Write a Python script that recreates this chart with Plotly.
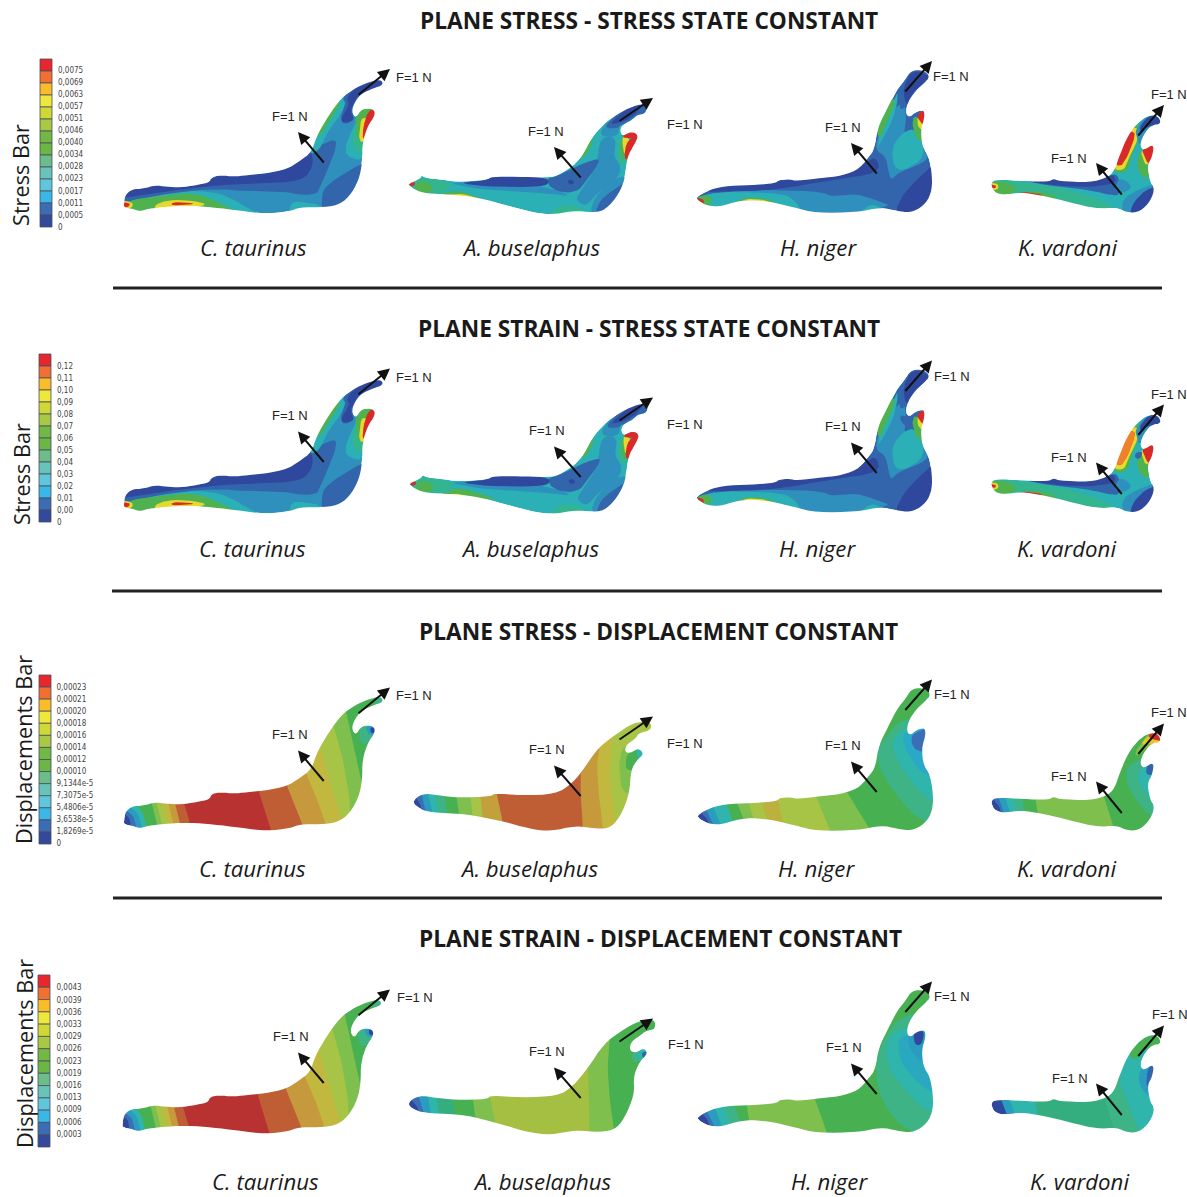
import plotly.graph_objects as go

# ---------- text content ----------
TITLES = [("PLANE STRESS - STRESS STATE CONSTANT", 649, 20),
          ("PLANE STRAIN - STRESS STATE CONSTANT", 649, 328),
          ("PLANE STRESS - DISPLACEMENT CONSTANT", 658, 631),
          ("PLANE STRAIN - DISPLACEMENT CONSTANT", 660, 938)]
SPECIES = ["C. taurinus", "A. buselaphus", "H. niger", "K. vardoni"]
SPECIES_X = [[253, 531, 818, 1067], [252, 530, 817, 1066], [252, 529, 816, 1066], [265, 542, 829, 1079]]
SPECIES_Y = [247, 548, 868, 1181]
SEPARATORS = [(113, 1162, 288), (112, 1162, 591), (113, 1162, 898)]
BAR_TITLES = [("Stress Bar", 20, 175), ("Stress Bar", 21, 474),
              ("Displacements Bar", 23, 750), ("Displacements Bar", 24, 1054)]
FORCE_LABELS = [
    [(414, 77), (290, 116), (546, 131), (685, 124), (843, 127), (951, 76), (1069, 158), (1169, 94)],
    [(414, 377), (290, 415), (547, 430), (685, 424), (843, 426), (952, 376), (1069, 457), (1169, 394)],
    [(414, 695), (290, 734), (547, 749), (685, 743), (843, 745), (952, 694), (1069, 776), (1169, 712)],
    [(415, 997), (291, 1036), (547, 1051), (686, 1044), (844, 1047), (952, 996), (1070, 1078), (1170, 1014)],
]
# arrows: tail x, tail y, head x, head y (first row)
ARROWS = [(325, 164, 298, 132), (357, 96, 390, 69), (582, 179, 554, 147), (618, 122, 653, 98),
          (878, 175, 851, 143), (904, 93, 932, 61), (1123, 196, 1096, 163), (1137, 137, 1164, 105)]
ARROW_DY = [0, 299.5, 618.5, 920.5]

# ---------- colour bars ----------
BAR_COLORS = ['#e8262d', '#f26f32', '#fbbc2a', '#efe83c', '#cfd834', '#a9c843', '#72b844',
              '#6ab746', '#6dbd8a', '#68c3b8', '#5fc6dc', '#3ab7e6', '#3a6db4', '#32499c']
BAR_BOXES = [(40, 52, 59, 227), (39, 51, 354, 522), (39, 51, 675, 844), (38, 50, 975, 1147)]
BAR_TICKS_1 = ["0,0075", "0,0069", "0,0063", "0,0057", "0,0051", "0,0046", "0,0040", "0,0034", "0,0028", "0,0023", "0,0017", "0,0011", "0,0005", "0"]
BAR_TICKS_2 = ["0,12", "0,11", "0,10", "0,09", "0,08", "0,07", "0,06", "0,05", "0,04", "0,03", "0,02", "0,01", "0,00", "0"]
BAR_TICKS_3 = ["0,00023", "0,00021", "0,00020", "0,00018", "0,00016", "0,00014", "0,00012", "0,00010", "9,1344e-5", "7,3075e-5", "5,4806e-5", "3,6538e-5", "1,8269e-5", "0"]
BAR_TICKS_4 = ["0,0043", "0,0039", "0,0036", "0,0033", "0,0029", "0,0026", "0,0023", "0,0019", "0,0016", "0,0013", "0,0009", "0,0006", "0,0003"]
BAR_TICKS = [BAR_TICKS_1, BAR_TICKS_2, BAR_TICKS_3, BAR_TICKS_4]
TICK_X = [58, 57, 56.5, 56.5]
TICK_Y0 = [71.2, 366.5, 687.5, 988.3]
TICK_STEP = [12.03, 12.0, 12.0, 12.2]

# ---------- palette of the contour maps ----------
NAVY, BLUE, STEEL, TEAL = '#2f479c', '#3265ab', '#2f90bd', '#2bb0b5'
SEA, GREEN, LIME, YEL, RED = '#33b58f', '#4fb24f', '#9cc43f', '#e6d92e', '#d92a2a'
D_BLUE, D_STEEL, D_TEAL, D_SEA = '#3a6fb5', '#2a9cc0', '#2fb5ac', '#3db386'
D_GREEN, D_LIME, D_YG, D_YELL = '#47b050', '#7fbf4d', '#a8c446', '#c3b83f'
D_OCHRE, D_BROWN, D_RED = '#c69a3c', '#bf5e35', '#b93232'

# ---------- outlines: (origin, x-scale, y-scale, points) ----------
C_OUT = ((0, 40), 3, 3, [(372,490),(376,465),(395,448),(430,446),(465,436),(500,440),(540,443),(590,435),(628,428),(635,410),(665,406),(700,410),(740,406),(800,400),(860,388),(900,363),(935,336),(950,288),(985,228),(1025,173),(1060,148),(1100,128),(1143,118),(1150,135),(1120,145),(1085,160),(1062,190),(1055,217),(1068,234),(1085,206),(1120,206),(1126,225),(1102,260),(1087,310),(1087,365),(1077,420),(1047,472),(1010,497),(960,502),(900,502),(870,514),(800,522),(720,512),(640,502),(570,497),(510,499),(440,507),(420,514),(400,507),(372,502)])
A_OUT = ((400, 50), 3, 3, [(26,402),(60,386),(65,376),(75,384),(120,388),(170,396),(260,390),(275,380),(350,380),(440,383),(470,378),(520,348),(550,313),(575,263),(610,223),(650,193),(700,168),(739,161),(739,190),(710,195),(700,210),(675,220),(660,235),(665,259),(695,244),(716,256),(702,285),(682,320),(677,370),(667,410),(642,452),(610,482),(580,487),(520,482),(470,492),(420,492),(340,472),(270,452),(200,437),(110,432),(60,427),(26,407)])
A_OUT3 = ((400, 670), 1.992, 3, [(23,395),(45,370),(75,376),(115,383),(180,380),(188,370),(240,376),(310,373),(345,338),(370,288),(395,233),(430,193),(465,158),(499,154),(501,180),(475,190),(470,205),(450,225),(448,247),(460,249),(475,234),(486,252),(472,270),(460,300),(457,370),(442,430),(422,472),(395,477),(350,467),(300,484),(260,477),(200,452),(130,432),(60,427),(40,417)])
A_OUT4 = ((400, 970), 1.992, 3, [(13,400),(38,376),(70,383),(110,390),(175,388),(180,376),(240,383),(315,378),(345,348),(375,293),(405,223),(440,183),(475,153),(507,146),(509,178),(490,182),(480,195),(460,215),(457,242),(470,249),(485,234),(494,250),(477,275),(465,320),(467,370),(452,430),(432,477),(400,487),(350,480),(300,495),(255,487),(200,462),(130,434),(60,430),(30,422)])
H_OUT = ((690, 50), 3, 3, [(18,442),(50,423),(100,408),(180,406),(258,400),(265,390),(300,388),(320,393),(400,383),(440,380),(500,363),(535,323),(553,298),(563,233),(593,173),(618,123),(643,93),(663,61),(702,61),(720,80),(702,100),(670,130),(650,165),(648,194),(660,201),(675,187),(701,179),(704,200),(692,240),(697,290),(717,320),(727,380),(724,430),(702,467),(660,489),(620,482),(570,472),(500,487),(380,489),(310,472),(250,457),(180,449),(130,457),(90,470),(50,467),(25,452)])
K_OUT = ((690, 50), 3, 3, [(901,400),(920,388),(1000,393),(1075,396),(1090,386),(1105,393),(1200,398),(1250,383),(1273,363),(1288,318),(1313,258),(1343,218),(1375,196),(1404,196),(1414,222),(1385,225),(1360,255),(1350,285),(1360,302),(1392,281),(1387,320),(1372,345),(1380,395),(1394,415),(1382,452),(1352,484),(1315,489),(1280,472),(1220,477),(1140,457),(1060,437),(990,427),(950,434),(915,430)])

# ---------- stress contour regions ----------
C_STRESS = [
 (TEAL, [(370,480),(470,462),(600,450),(680,465),(760,515),(800,530),(400,530),(370,520)]),
 (BLUE, [(370,465),(450,445),(630,430),(900,340),(950,320),(1005,295),(1010,320),(985,385),(960,440),(950,463),(900,465),(860,455),(750,455),(640,445),(470,465),(370,490)]),
 (NAVY, [(360,470),(395,440),(470,430),(540,440),(630,420),(665,400),(800,392),(900,355),(935,330),(940,380),(905,425),(760,430),(630,437),(470,458),(378,475)]),
 (GREEN, [(378,490),(400,478),(470,470),(560,458),(620,470),(680,500),(720,515),(600,505),(440,520),(400,520)]),
 (YEL, [(470,490),(520,478),(600,485),(620,495),(570,505),(480,510),(460,510)]),
 (RED, [(515,487),(560,487),(590,492),(515,497)]),
 (YEL, [(365,480),(400,488),(395,505),(370,510)]),
 (RED, [(365,486),(392,490),(385,502),(365,503)]),
 (BLUE, [(965,470),(975,440),(1040,395),(1095,365),(1095,400),(1040,490),(1000,510),(965,510)]),
 (TEAL, [(870,498),(880,485),(920,487),(960,495),(960,510),(870,520)]),
 (TEAL, [(925,345),(945,285),(980,220),(1025,165),(1040,170),(1030,215),(985,270),(960,330)]),
 (GREEN, [(945,285),(980,225),(1012,180),(1022,190),(990,240),(960,290)]),
 (BLUE, [(1025,175),(1060,145),(1100,125),(1150,115),(1155,145),(1100,155),(1075,165),(1055,215),(1065,240),(1030,255),(1020,230),(1040,190)]),
 (NAVY, [(1038,175),(1065,145),(1100,125),(1150,115),(1155,145),(1100,155),(1075,165),(1060,190),(1050,215),(1065,240),(1030,250),(1022,235),(1050,195)]),
 (TEAL, [(1075,235),(1060,260),(1035,320),(1040,350),(1095,365),(1095,240)]),
 (SEA, [(1080,225),(1062,265),(1055,325),(1095,345),(1105,250)]),
 (GREEN, [(1065,225),(1085,205),(1125,205),(1100,228),(1075,290),(1078,330),(1070,280)]),
 (YEL, [(1085,230),(1078,270),(1078,305),(1095,305),(1110,240)]),
 (RED, [(1120,202),(1097,225),(1085,295),(1098,295),(1115,258),(1138,225)]),
]
A_STRESS = [
 (SEA, [(20,400),(60,380),(170,400),(120,435),(60,435)]),
 (GREEN, [(45,395),(80,395),(100,410),(90,430),(50,430)]),
 (RED, [(18,400),(48,395),(40,412)]),
 (GREEN, [(110,432),(170,420),(230,440),(285,460),(200,445)]),
 (YEL, [(130,436),(190,430),(240,448),(200,442)]),
 (STEEL, [(150,398),(260,395),(450,410),(520,440),(440,430),(350,425),(260,420),(170,405)]),
 (STEEL, [(600,260),(650,260),(640,320),(660,340),(660,380),(590,430),(560,470),(525,450),(545,420),(590,350)]),
 (BLUE, [(440,385),(470,380),(520,352),(590,325),(600,335),(560,390),(540,420),(500,430),(450,415)]),
 (NAVY, [(170,398),(260,392),(275,376),(440,380),(450,405),(380,412),(260,410)]),
 (NAVY, [(500,392),(515,388),(525,398),(510,406)]),
 (STEEL, [(570,490),(580,450),(630,390),(680,375),(680,410),(640,460),(610,495)]),
 (BLUE, [(585,490),(600,450),(640,420),(675,395),(670,425),(630,475),(605,495)]),
 (SEA, [(450,495),(470,470),(520,465),(560,485),(470,500)]),
 (STEEL, [(610,225),(650,195),(660,235),(650,260),(600,260)]),
 (BLUE, [(610,235),(650,190),(700,165),(745,158),(745,195),(710,195),(680,220),(660,225),(655,235)]),
 (NAVY, [(625,225),(665,188),(700,165),(730,162),(705,195),(670,215)]),
 (GREEN, [(540,330),(565,280),(580,262),(575,285),(555,320)]),
 (SEA, [(660,255),(650,300),(655,340),(680,345),(700,270)]),
 (GREEN, [(665,260),(660,310),(672,335),(690,290)]),
 (YEL, [(665,255),(672,320),(685,290),(690,265)]),
 (RED, [(672,325),(680,270),(725,250),(712,290),(685,330)]),
 (RED, [(665,260),(695,240),(725,250),(700,265),(680,265)]),
]
H_STRESS = [
 (STEEL, [(70,440),(130,420),(260,420),(400,425),(420,440),(500,430),(570,455),(600,465),(570,475),(500,495),(380,495),(250,465),(180,455),(100,455)]),
 (NAVY, [(40,425),(100,405),(258,396),(300,385),(500,358),(530,335),(560,320),(570,370),(420,390),(260,420),(100,425)]),
 (TEAL, [(10,445),(60,430),(130,425),(270,430),(310,445),(340,490),(250,465),(180,455),(130,465),(90,475),(50,475)]),
 (GREEN, [(15,445),(50,432),(70,450),(50,470)]),
 (RED, [(15,441),(42,448),(42,464)]),
 (GREEN, [(110,470),(170,440),(240,448),(280,470)]),
 (YEL, [(125,465),(170,445),(230,450),(260,468)]),
 (RED, [(150,452),(197,450),(210,462),(150,462)]),
 (TEAL, [(500,495),(540,462),(570,470),(600,490)]),
 (NAVY, [(610,495),(640,430),(700,370),(735,340),(745,400),(730,455),(695,505)]),
 (STEEL, [(555,300),(565,250),(590,200),(640,150),(650,200),(640,260),(690,240),(700,300),(720,330),(620,370),(600,395),(590,320)]),
 (TEAL, [(565,290),(570,235),(605,165),(625,120),(620,170),(600,230),(560,295)]),
 (GREEN, [(558,240),(586,168),(610,140),(615,165),(590,215),(570,270)]),
 (TEAL, [(640,245),(680,235),(710,320),(640,365),(610,350),(605,290)]),
 (GREEN, [(665,210),(680,195),(700,240),(705,285),(675,260)]),
 (YEL, [(680,200),(705,175),(702,240),(685,235)]),
 (RED, [(680,195),(710,172),(706,230),(687,212)]),
 (BLUE, [(620,125),(645,90),(665,58),(700,58),(728,80),(700,100),(670,130),(650,170),(630,180),(630,150)]),
 (NAVY, [(645,100),(670,58),(728,80),(700,100),(665,130),(650,170),(640,130)]),
]
K_STRESS = [
 (SEA, [(895,400),(920,385),(985,395),(1100,410),(1240,450),(1280,480),(1140,465),(990,435),(915,435)]),
 (GREEN, [(895,400),(930,392),(985,410),(960,438),(915,435)]),
 (YEL, [(895,398),(925,400),(925,420),(900,420)]),
 (RED, [(895,403),(918,405),(918,415),(895,415)]),
 (BLUE, [(990,392),(1075,394),(1090,383),(1200,396),(1250,380),(1285,370),(1290,425),(1280,440),(1200,420),(1100,410)]),
 (NAVY, [(1000,392),(1075,394),(1090,383),(1205,398),(1250,380),(1270,372),(1280,400),(1200,412),(1080,405)]),
 (GREEN, [(985,425),(1060,425),(1110,445),(1060,445)]),
 (RED, [(985,425),(1050,430),(1060,442),(1000,440)]),
 (STEEL, [(1270,420),(1300,430),(1330,410),(1290,380)]),
 (STEEL, [(1295,450),(1340,420),(1400,400),(1400,420),(1350,495),(1300,495)]),
 (NAVY, [(1315,495),(1340,440),(1395,405),(1405,420),(1390,460),(1350,500)]),
 (GREEN, [(1268,370),(1280,320),(1305,250),(1345,215),(1352,260),(1325,310),(1315,365)]),
 (YEL, [(1270,360),(1282,320),(1307,252),(1342,225),(1345,270),(1315,325),(1305,360)]),
 (RED, [(1275,345),(1290,300),(1315,245),(1335,245),(1332,270),(1312,320),(1295,348)]),
 (STEEL, [(1335,240),(1375,190),(1425,222),(1385,225),(1365,245),(1350,290),(1340,262)]),
 (NAVY, [(1350,225),(1385,190),(1425,215),(1400,225),(1370,230),(1350,250)]),
 (GREEN, [(1350,300),(1340,340),(1350,375),(1380,390),(1372,345),(1390,310)]),
 (YEL, [(1350,295),(1362,340),(1375,345),(1392,310)]),
 (RED, [(1355,298),(1400,275),(1395,322),(1375,345),(1362,315)]),
]
H_EXTRA_2 = [(BLUE, [(630,195),(660,205),(665,220),(645,230),(632,215)])]
K_EXTRA_2 = [('#f0812b', [(1275,345),(1290,300),(1315,245),(1335,245),(1332,270),(1312,320),(1295,348)]),
             (BLUE, [(1335,310),(1360,305),(1350,330),(1335,325)])]
A_EXTRA_2 = [(GREEN, [(130,420),(180,415),(260,440),(300,455),(200,442)])]

# ---------- displacement bands: (colour, cut line from upper end to lower end) ----------
C_BANDS = [
 (D_BLUE, [(370,488),(390,505),(392,530)]), (D_STEEL, [(375,480),(400,495),(408,530)]),
 (D_TEAL, [(385,465),(415,490),(425,530)]), (D_GREEN, [(410,465),(430,490),(440,530)]),
 (D_LIME, [(455,458),(470,520)]), (D_YG, [(470,458),(485,520)]), (D_YELL, [(490,458),(505,520)]),
 (D_OCHRE, [(505,460),(520,520)]), (D_BROWN, [(525,460),(540,520)]), (D_RED, [(552,460),(570,520)]),
 (D_BROWN, [(775,420),(815,545)]), (D_OCHRE, [(862,410),(908,525)]),
 (D_YELL, [(918,370),(945,430),(978,525)]), (D_YG, [(960,290),(990,390),(1030,530)]),
 (D_LIME, [(1000,225),(1030,330),(1050,450),(1050,500)]), (D_GREEN, [(1035,170),(1060,280),(1085,400),(1090,420)]),
]
C_BANDS_TOP = [(D_SEA, [(1125,135),(1155,135),(1155,170),(1125,170)]),
               (D_SEA, [(1075,228),(1085,295),(1130,250),(1130,222)]),
               (D_STEEL, [(1095,228),(1130,228),(1130,255),(1105,255)]),
               (NAVY, [(1110,232),(1130,232),(1130,250),(1112,250)])]
A_BANDS3 = [
 (D_BLUE, [(30,380),(40,400),(45,430)]), (D_STEEL, [(42,365),(52,430)]), (D_TEAL, [(55,365),(65,430)]),
 (D_SEA, [(70,365),(78,435)]), (D_GREEN, [(88,370),(95,435)]), (D_LIME, [(112,375),(118,435)]),
 (D_YG, [(140,375),(145,440)]), ('#c4a03c', [(160,375),(165,445)]), (D_BROWN, [(192,365),(205,460)]),
 (D_OCHRE, [(360,375),(365,475)]), (D_YELL, [(400,215),(390,300),(405,480)]), (D_YG, [(425,190),(415,300),(432,480)]),
]
A_TOP3 = [(D_LIME, [(445,225),(435,280),(442,370),(470,370),(470,225)]),
          (D_GREEN, [(452,250),(448,300),(470,300),(490,250),(470,230)]),
          (D_TEAL, [(470,235),(490,235),(488,265),(472,265)])]
A_BANDS4 = [
 (D_BLUE, [(20,385),(35,410),(40,440)]), (D_STEEL, [(35,370),(50,440)]), (D_TEAL, [(55,370),(62,440)]),
 ('#34ae7f', [(72,375),(78,440)]), (D_GREEN, [(105,380),(110,440)]), (D_LIME, [(145,385),(150,440)]),
 ('#a5bf42', [(178,370),(195,500)]), (D_LIME, [(375,330),(378,500)]), (D_GREEN, [(418,205),(412,320),(428,500)]),
]
A_TOP4 = [(D_SEA, [(460,245),(463,280),(495,265),(495,235)]), (D_TEAL, [(470,238),(495,233),(492,262),(475,270)]),
          (BLUE, [(480,245),(500,245),(486,272)])]
H_BANDS3 = [
 (D_BLUE, [(597,425),(612,445),(618,475)]), (D_STEEL, [(610,420),(628,475)]), (D_TEAL, [(625,415),(642,475)]),
 (D_GREEN, [(650,400),(668,475)]), (D_LIME, [(672,400),(690,470)]), (D_YG, [(695,400),(708,465)]),
 ('#bcb03e', [(720,395),(735,465)]), (D_YG, [(752,380),(765,475)]), (D_LIME, [(828,375),(860,495)]),
 (D_GREEN, [(888,360),(940,490)]),
]
H_TOP3 = [(D_SEA, [(1000,140),(965,205),(950,240),(955,300),(990,380),(1040,460),(1100,460),(1100,150)]),
          (D_TEAL, [(1005,170),(980,210),(985,260),(1020,340),(1060,400),(1100,400),(1100,160)]),
          ('#2aa8c8', [(1008,180),(1000,210),(1015,260),(1045,320),(1100,320),(1100,160)]),
          (D_BLUE, [(1020,190),(1018,220),(1030,245),(1060,245),(1060,170)])]
H_BANDS4 = [
 (D_BLUE, [(597,425),(612,445),(618,475)]), (D_STEEL, [(610,420),(628,475)]), (D_TEAL, [(628,415),(642,475)]),
 (D_SEA, [(645,405),(660,470)]), (D_GREEN, [(665,400),(680,465)]), (D_LIME, [(690,400),(697,465)]),
 (D_GREEN, [(825,380),(852,495)]),
]
H_TOP4 = [(D_SEA, [(1000,130),(960,210),(945,300),(960,400),(1010,490),(1100,490),(1100,120)]),
          (D_TEAL, [(990,170),(965,230),(975,300),(1000,350),(1050,430),(1100,430),(1100,170)]),
          ('#2aa8c0', [(1005,190),(990,220),(1000,290),(1055,370),(1100,370),(1100,180)]),
          (D_STEEL, [(1010,190),(1015,240),(1040,280),(1060,270),(1060,180)]),
          (NAVY, [(1022,185),(1025,225),(1040,225),(1045,180)])]
K_BANDS3 = [
 (D_BLUE, [(1180,385),(1195,410),(1198,440)]), (D_STEEL, [(1192,380),(1205,440)]), (D_TEAL, [(1205,380),(1218,440)]),
 (D_SEA, [(1220,380),(1232,440)]), (D_GREEN, [(1240,380),(1246,440)]), (D_LIME, [(1265,380),(1272,445)]),
 (D_GREEN, [(1400,370),(1425,495)]),
]
K_TOP3 = [(D_SEA, [(1450,270),(1445,340),(1475,410),(1505,450),(1550,400),(1550,260)]),
          (D_TEAL, [(1470,290),(1470,340),(1500,400),(1550,400),(1550,270)]),
          (BLUE, [(1488,280),(1485,315),(1505,315),(1510,275)]),
          (D_LIME, [(1462,250),(1478,220),(1490,190),(1530,185),(1530,225),(1490,225),(1472,260)]),
          ('#e6c52e', [(1475,225),(1490,195),(1530,190),(1530,220),(1490,222)]),
          (RED, [(1488,198),(1500,188),(1530,190),(1530,212),(1505,212)])]
K_BANDS4 = [
 (D_STEEL, [(1195,380),(1212,445)]), (D_TEAL, [(1212,380),(1228,445)]), ('#34ae7f', [(1265,390),(1272,450)]),
 (D_SEA, [(1400,370),(1425,495)]), (D_TEAL, [(1435,345),(1475,495)]),
]
K_TOP4 = [(D_GREEN, [(1450,260),(1465,225),(1490,195),(1525,195),(1525,235),(1480,235),(1470,270)]),
          (D_STEEL, [(1475,290),(1470,340),(1490,380),(1520,380),(1520,280)]),
          (BLUE, [(1490,290),(1485,350),(1500,350),(1505,285)])]

ORIGIN_R3 = (400, 670); ORIGIN_R4 = (400, 970); ORIGIN_C3 = (0, 650)
FAR_TOP, FAR_BOTTOM = -500, 2500


def round_closed(pts, n=2):
    """Round the corners of a polygon so the contours read as curves."""
    for _ in range(n):
        out = []
        for i, a in enumerate(pts):
            b = pts[(i + 1) % len(pts)]
            out += [(0.75 * a[0] + 0.25 * b[0], 0.75 * a[1] + 0.25 * b[1]),
                    (0.25 * a[0] + 0.75 * b[0], 0.25 * a[1] + 0.75 * b[1])]
        pts = out
    return pts


def round_open(pts, n=2):
    for _ in range(n):
        out = [pts[0]]
        for a, b in zip(pts, pts[1:]):
            out += [(0.75 * a[0] + 0.25 * b[0], 0.75 * a[1] + 0.25 * b[1]),
                    (0.25 * a[0] + 0.75 * b[0], 0.25 * a[1] + 0.75 * b[1])]
        out.append(pts[-1])
        pts = out
    return pts


def conv(src, pts, dx=0, dy=0):
    (ox, oy), sx, sy = src
    return [(ox + p[0] / sx + dx, oy + p[1] / sy + dy) for p in pts]


def band_polys(bands, far_right):
    out = []
    for col, cut in bands:
        c = round_open(list(cut))
        out.append((col, c + [(c[-1][0], FAR_BOTTOM), (far_right, FAR_BOTTOM), (far_right, FAR_TOP), (c[0][0], FAR_TOP)], False))
    return out


S1 = ((0, 40), 3, 3); S5 = ((400, 50), 3, 3); S6 = ((690, 50), 3, 3)
C3S = (ORIGIN_C3, 3, 3); R3S = (ORIGIN_R3, 1.992, 3); R4S = (ORIGIN_R4, 1.992, 3)

fig = go.Figure()
shapes = []


def panel(outline, base, layers, src, ldx=0, ldy=0, odx=0, ody=0):
    ot = conv((outline[0], outline[1], outline[2]), round_closed(outline[3], 2), odx, ody)
    xs = [p[0] for p in ot]; ys = [p[1] for p in ot]
    x0, x1, y0, y1 = min(xs) - 2, max(xs) + 2, min(ys) - 2, max(ys) + 2
    fig.add_trace(go.Scatter(x=xs + xs[:1], y=ys + ys[:1], mode='lines', fill='toself', fillcolor=base,
                             line=dict(width=0), hoverinfo='skip', showlegend=False))
    for layer in layers:
        col, poly = layer[0], layer[1]
        if len(layer) == 2:
            poly = round_closed(poly, 2)
        pp = conv(src, poly, ldx, ldy)
        px = [min(max(p[0], x0), x1) for p in pp]; py = [min(max(p[1], y0), y1) for p in pp]
        fig.add_trace(go.Scatter(x=px + px[:1], y=py + py[:1], mode='lines', fill='toself', fillcolor=col,
                                 line=dict(width=0), hoverinfo='skip', showlegend=False))
    mx0, mx1, my0, my1 = x0 - 3, x1 + 3, y0 - 3, y1 + 3
    path = f"M{mx0},{my0}L{mx1},{my0}L{mx1},{my1}L{mx0},{my1}Z M" + "L".join(f"{a:.1f},{b:.1f}" for a, b in ot) + "Z"
    shapes.append(dict(type='path', path=path, fillcolor='white', fillrule='evenodd',
                       line=dict(width=0), layer='above', xref='x', yref='y'))


# row 1 and 2: stress
panel(C_OUT, STEEL, C_STRESS, S1)
panel(A_OUT, TEAL, A_STRESS, S5)
panel(H_OUT, BLUE, H_STRESS, S6)
panel(K_OUT, TEAL, K_STRESS, S6)
panel(C_OUT, STEEL, C_STRESS, S1, 0, 300, 0, 300)
panel(A_OUT, TEAL, A_STRESS + A_EXTRA_2, S5, 1, 299.5, 1, 299.5)
panel(H_OUT, BLUE, H_STRESS + H_EXTRA_2, S6, 0, 299.5, 0, 299.5)
panel(K_OUT, TEAL, K_STRESS + K_EXTRA_2, S6, 0, 299.5, 0, 299.5)
# row 3: displacement
panel(C_OUT, NAVY, band_polys(C_BANDS, 1300) + C_BANDS_TOP, C3S, 0, 0, 0, 617)
panel(A_OUT3, NAVY, band_polys(A_BANDS3, 560) + A_TOP3, R3S)
panel(H_OUT, NAVY, band_polys(H_BANDS3, 1120) + H_TOP3, R3S, 0, 0, 1, 618)
panel(K_OUT, NAVY, band_polys(K_BANDS3, 1600) + K_TOP3, R3S, 0, 0, 0, 618)
# row 4: displacement
panel(C_OUT, NAVY, band_polys(C_BANDS, 1300) + C_BANDS_TOP, C3S, -1.5, 302, -1.5, 920)
panel(A_OUT4, NAVY, band_polys(A_BANDS4, 560) + A_TOP4, R4S)
panel(H_OUT, NAVY, band_polys(H_BANDS4, 1120) + H_TOP4, R4S, 0, 0, 1, 920)
panel(K_OUT, NAVY, band_polys(K_BANDS4, 1600) + K_TOP4, R4S, 0, 0, 0, 920)

# colour bars and their tick labels
for box, ticks, tx, ty0, step in zip(BAR_BOXES, BAR_TICKS, TICK_X, TICK_Y0, TICK_STEP):
    x0, x1, y0, y1 = box
    h = (y1 - y0) / 14
    fig.add_trace(go.Bar(x=[(x0 + x1) / 2] * 14, y=[h] * 14, base=[y0 + i * h for i in range(14)], width=x1 - x0,
                         marker=dict(color=BAR_COLORS, line=dict(color='#4a4f5a', width=0.8)),
                         hoverinfo='skip', showlegend=False))
    fig.add_trace(go.Scatter(x=[tx] * len(ticks), y=[ty0 + i * step for i in range(len(ticks))], text=ticks,
                             mode='text', textposition='middle right', hoverinfo='skip', showlegend=False,
                             textfont=dict(family='Liberation Sans Narrow, DejaVu Sans Condensed, sans-serif', size=8, color='#444')))

ann = []
for text, x, y in TITLES:
    ann.append(dict(text=f"<b>{text}</b>", x=x, y=y, showarrow=False, font=dict(family='Open Sans', size=22.7, color='#1a1a1a')))
for r, (xs, y) in enumerate(zip(SPECIES_X, SPECIES_Y)):
    for name, x in zip(SPECIES, xs):
        ann.append(dict(text=f"<i>{name}</i>", x=x, y=y, showarrow=False, font=dict(family='Open Sans', size=22.2, color='#1a1a1a')))
for text, x, y in BAR_TITLES:
    ann.append(dict(text=text, x=x, y=y, textangle=-90, showarrow=False, font=dict(family='Open Sans', size=21.7, color='#1a1a1a')))
for row in FORCE_LABELS:
    for x, y in row:
        ann.append(dict(text="F=1 N", x=x, y=y, showarrow=False, font=dict(family='Liberation Sans', size=13, color='#222')))
for dy in ARROW_DY:
    for tx, ty, hx, hy in ARROWS:
        ann.append(dict(text="", x=hx, y=hy + dy, ax=tx, ay=ty + dy, axref='x', ayref='y', showarrow=True,
                        arrowhead=2, arrowsize=1.2, arrowwidth=2, arrowcolor='#111'))
for a in ann:
    a.setdefault('xref', 'x'); a.setdefault('yref', 'y')
    a.setdefault('xanchor', 'center'); a.setdefault('yanchor', 'middle')
for x0, x1, y in SEPARATORS:
    shapes.append(dict(type='line', x0=x0, x1=x1, y0=y, y1=y, xref='x', yref='y', line=dict(color='#222', width=3)))

fig.update_layout(width=1187, height=1197, margin=dict(l=0, r=0, t=0, b=0), paper_bgcolor='white', plot_bgcolor='white',
                  xaxis=dict(range=[0, 1187], visible=False, fixedrange=True),
                  yaxis=dict(range=[1197, 0], visible=False, fixedrange=True),
                  barmode='overlay', shapes=shapes, annotations=ann, showlegend=False)
fig.write_html("out.html", post_script="document.body.style.margin='0';", config=dict(displayModeBar=False))
